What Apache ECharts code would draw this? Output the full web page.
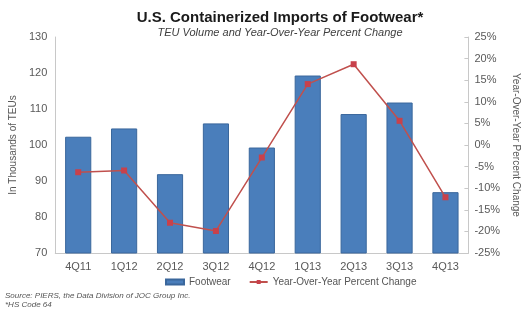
<!DOCTYPE html>
<html>
<head>
<meta charset="utf-8">
<script src="https://cdn.jsdelivr.net/npm/echarts@6/dist/echarts.min.js"></script>
<style>
  html, body { margin: 0; padding: 0; background: #fff; }
  #chart { width: 529px; height: 310px; }
</style>
</head>
<body>
<div id="chart"></div>
<script>
// quarters
const quarters = ['4Q11', '1Q12', '2Q12', '3Q12', '4Q12', '1Q13', '2Q13', '3Q13', '4Q13']
// footwear TEU volume, thousands
const footwear = [102.3, 104.6, 91.9, 106.0, 99.3, 119.3, 108.6, 111.8, 86.9]
// year-over-year percent change
const yoyChange = [-6.3, -5.9, -18.0, -19.9, -2.9, 14.1, 18.7, 5.6, -12.1]

const font = 'Liberation Sans, Arial, sans-serif'

const option = {
  animation: false,
  textStyle: { fontFamily: font },
  title: {
    text: 'U.S. Containerized Imports of Footwear*',
    subtext: 'TEU Volume and Year-Over-Year Percent Change',
    left: 275,
    top: 5,
    textAlign: 'center',
    itemGap: 2,
    textStyle: { fontSize: 15, fontWeight: 'bold', color: '#1a1a1a', fontFamily: font },
    subtextStyle: { fontSize: 11, fontStyle: 'italic', color: '#404040', fontFamily: font }
  },
  grid: { left: 46, right: 46, top: 37, bottom: 57 },
  legend: {
    bottom: 18,
    left: 160,
    itemWidth: 18,
    itemHeight: 5,
    itemGap: 18,
    textStyle: { fontSize: 10, color: '#555', fontFamily: font },
    data: [
      { name: 'Footwear', icon: 'rect' },
      'Year-Over-Year Percent Change'
    ]
  },
  xAxis: {
    type: 'category',
    data: quarters,
    axisLine: { onZero: false, lineStyle: { color: '#c8c8c8' } },
    axisTick: { show: false },
    axisLabel: { fontSize: 11, color: '#595959', margin: 8 }
  },
  yAxis: [
    {
      type: 'value',
      min: 70,
      max: 130,
      interval: 10,
      name: 'In Thousands of TEUs',
      nameLocation: 'middle',
      nameGap: 28,
      nameTextStyle: { fontSize: 10, color: '#595959' },
      axisLine: { show: true, lineStyle: { color: '#c8c8c8' } },
      axisTick: { show: false },
      splitLine: { show: false },
      axisLabel: { fontSize: 11, color: '#595959', margin: 8 }
    },
    {
      type: 'value',
      min: -25,
      max: 25,
      interval: 5,
      name: 'Year-Over-Year Percent Change',
      nameLocation: 'middle',
      nameGap: 29,
      nameRotate: -90,
      nameTextStyle: { fontSize: 10, color: '#595959' },
      axisLine: { show: true, lineStyle: { color: '#c8c8c8' } },
      axisTick: { show: true, inside: true, length: 4, lineStyle: { color: '#c8c8c8' } },
      splitLine: { show: false },
      axisLabel: { fontSize: 11, color: '#595959', margin: 6, formatter: '{value}%' }
    }
  ],
  series: [
    {
      name: 'Footwear',
      type: 'bar',
      data: footwear,
      barWidth: '57%',
      itemStyle: { color: '#4a7ebb', borderColor: '#3a679c', borderWidth: 1 }
    },
    {
      name: 'Year-Over-Year Percent Change',
      type: 'line',
      yAxisIndex: 1,
      data: yoyChange,
      symbol: 'rect',
      symbolSize: 6,
      lineStyle: { color: '#c0504d', width: 1.5 },
      itemStyle: { color: '#c8414b' }
    }
  ],
  graphic: [
    {
      type: 'text',
      left: 5,
      top: 292,
      style: { text: 'Source: PIERS, the Data Division of JOC Group Inc.', font: 'italic 8px ' + font, fill: '#555' }
    },
    {
      type: 'text',
      left: 5,
      top: 301,
      style: { text: '*HS Code 64', font: 'italic 8px ' + font, fill: '#555' }
    }
  ]
}

const chart = echarts.init(document.getElementById('chart'))
chart.setOption(option)
</script>
</body>
</html>
